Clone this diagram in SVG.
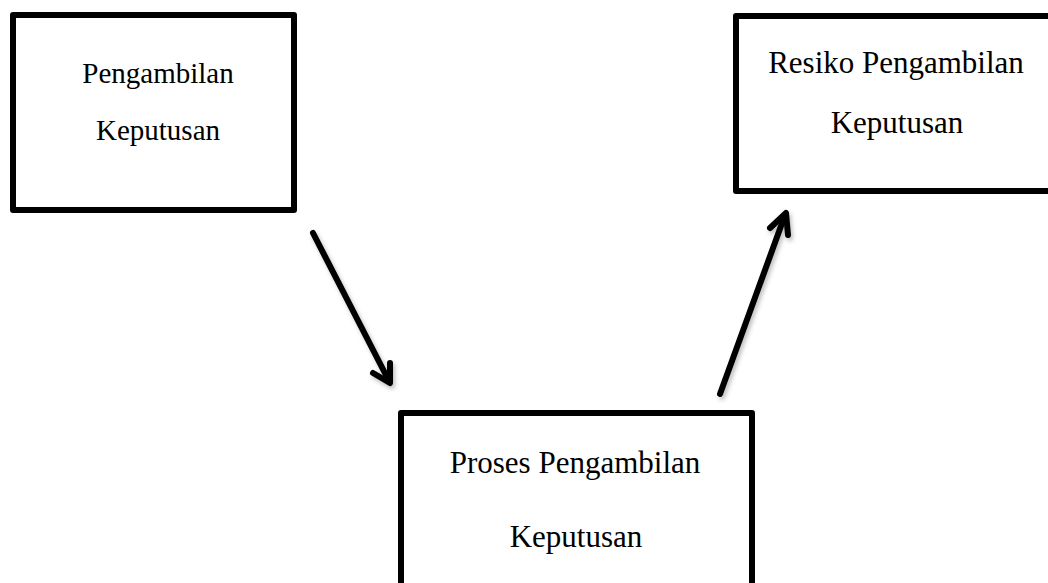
<svg xmlns="http://www.w3.org/2000/svg" width="1048" height="583" viewBox="0 0 1048 583">
<style>
.box{fill:#fff;stroke:#000;stroke-width:6;stroke-linejoin:round}
.lbl{font-family:"Liberation Serif","Times New Roman",serif;fill:#000;text-anchor:middle}
.arr{fill:none;stroke:#000;stroke-width:6;stroke-linecap:round;stroke-linejoin:round}
</style>
<defs>
<filter id="sh" x="-20%" y="-20%" width="140%" height="140%">
<feDropShadow dx="2" dy="3" stdDeviation="2" flood-color="#000" flood-opacity="0.25"/>
</filter>
</defs>
<rect width="1048" height="583" fill="#fff"/>
<g id="node-pengambilan">
<rect class="box" x="13" y="15" width="281" height="195"/>
<text class="lbl" x="158" y="83" font-size="29">Pengambilan</text>
<text class="lbl" x="158" y="140" font-size="29">Keputusan</text>
</g>
<g id="node-resiko">
<rect class="box" x="736" y="16" width="330" height="175"/>
<text class="lbl" x="896" y="73" font-size="31">Resiko Pengambilan</text>
<text class="lbl" x="897" y="133" font-size="31">Keputusan</text>
</g>
<g id="node-proses">
<rect class="box" x="401" y="413" width="351" height="200"/>
<text class="lbl" x="575" y="473" font-size="31">Proses Pengambilan</text>
<text class="lbl" x="576" y="547" font-size="31">Keputusan</text>
</g>
<g id="connectors" filter="url(#sh)">
<path class="arr" d="M313,233 L389,381"/>
<path class="arr" d="M373,373 L390,383 L390,363"/>
<path class="arr" d="M720,394 L785,215"/>
<path class="arr" d="M770,228 L786,213 L788,235"/>
</g>
</svg>
